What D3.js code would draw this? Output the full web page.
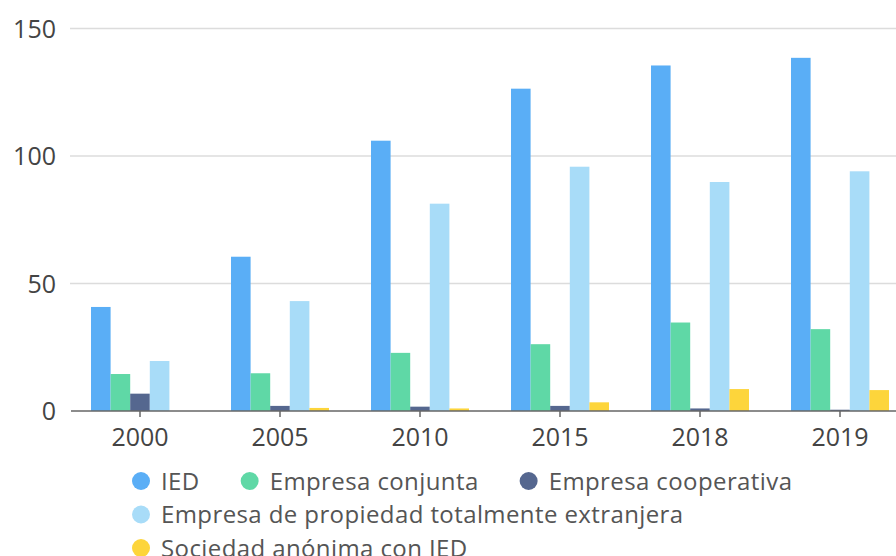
<!DOCTYPE html>
<html>
<head>
<meta charset="utf-8">
<script src="https://cdn.jsdelivr.net/npm/d3@7"></script>
<style>
  html, body { margin: 0; padding: 0; background: #fff; overflow: hidden; }
  svg { display: block; font-family: "Open Sans", Lato, sans-serif; }
</style>
</head>
<body>
<svg id="chart" width="896" height="556"></svg>
<script>
// categories (years)
const years = ["2000", "2005", "2010", "2015", "2018", "2019"];
// series names and colours
const seriesNames = ["IED", "Empresa conjunta", "Empresa cooperativa",
  "Empresa de propiedad totalmente extranjera", "Sociedad anónima con IED"];
const seriesColors = ["#5aaef6", "#5fd8a6", "#55678f", "#a8dcf8", "#fdd53b"];
// values per series, one per year
const ied = [40.8, 60.5, 106, 126.4, 135.5, 138.5];
const conjunta = [14.5, 14.8, 22.8, 26.2, 34.7, 32.1];
const cooperativa = [6.8, 2, 1.7, 2, 1, 0.5];
const extranjera = [19.6, 43.1, 81.3, 95.8, 89.8, 94];
const anonima = [0, 1.2, 1, 3.4, 8.6, 8.2];
const yTicks = [0, 50, 100, 150];

const allSeries = [ied, conjunta, cooperativa, extranjera, anonima];

var svg = d3.select("#chart");

// plot area runs off the right edge like the reference
var plotLeft = 70, plotRight = 910, plotTop = 28.5, plotBottom = 411;

var x = d3.scaleBand().domain(years).range([plotLeft, plotRight]).paddingInner(0.3).paddingOuter(0.15);
var x1 = d3.scaleBand().domain(d3.range(seriesNames.length)).range([0, x.bandwidth()]);
var y = d3.scaleLinear().domain([0, 150]).range([plotBottom, plotTop]);

// gridlines
svg.append("g")
  .selectAll("line")
  .data(yTicks.filter(d => d > 0))
  .enter().append("line")
    .attr("x1", plotLeft).attr("x2", 896)
    .attr("y1", d => y(d)).attr("y2", d => y(d))
    .attr("stroke", "#dcdcdc").attr("stroke-width", 1.5);

// y labels
svg.append("g")
  .selectAll("text")
  .data(yTicks)
  .enter().append("text")
    .attr("x", 56).attr("y", d => y(d))
    .attr("dy", "0.36em")
    .attr("text-anchor", "end")
    .attr("font-size", 25)
    .attr("fill", "#444")
    .text(d => d);

// bars
var groups = svg.append("g")
  .selectAll("g")
  .data(years)
  .enter().append("g")
    .attr("transform", d => "translate(" + x(d) + ",0)");

groups.selectAll("rect")
  .data((d, i) => allSeries.map((s, k) => ({k: k, v: s[i]})))
  .enter().append("rect")
    .attr("x", d => x1(d.k))
    .attr("width", x1.bandwidth())
    .attr("y", d => y(d.v))
    .attr("height", d => y(0) - y(d.v))
    .attr("fill", d => seriesColors[d.k]);

// x axis
var xAxis = svg.append("g")
  .attr("transform", "translate(0," + plotBottom + ")")
  .call(d3.axisBottom(x).tickSize(6).tickSizeOuter(0));
xAxis.select(".domain").attr("stroke", "#666").attr("stroke-width", 1.5)
  .attr("d", "M" + (plotLeft + 1) + ",0H896");
xAxis.selectAll(".tick line").attr("stroke", "#666").attr("stroke-width", 1.5);
xAxis.selectAll(".tick text")
  .attr("font-size", 25)
  .attr("font-family", "'Open Sans', Lato, sans-serif")
  .attr("fill", "#444")
  .attr("y", 17)
  .attr("dy", "0.71em");

// legend
var rows = [[0, 1, 2], [3], [4]];
var legend = svg.append("g");
rows.forEach(function(row, r) {
  var cx = 141;
  var cy = 481 + r * 33.5;
  row.forEach(function(k) {
    legend.append("circle")
      .attr("cx", cx).attr("cy", cy).attr("r", 9)
      .attr("fill", seriesColors[k]);
    var t = legend.append("text")
      .attr("x", cx + 20).attr("y", cy)
      .attr("dy", "0.36em")
      .attr("font-size", 24)
      .attr("letter-spacing", 0.4)
      .attr("fill", "#555")
      .text(seriesNames[k]);
    cx = cx + 20 + t.node().getComputedTextLength() + 50;
  });
});
</script>
</body>
</html>
